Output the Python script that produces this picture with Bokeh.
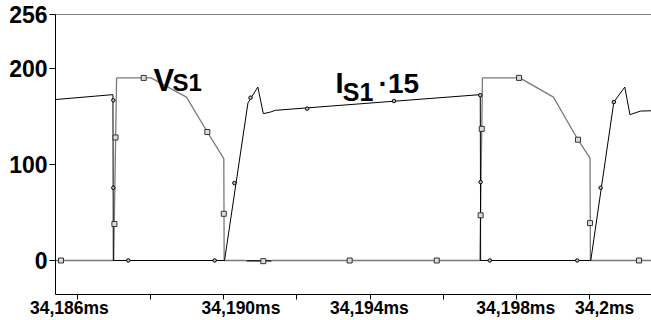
from bokeh.plotting import figure
from bokeh.models import Range1d, FixedTicker, Span, Label
from bokeh.embed import file_html
from bokeh.resources import INLINE

# ---- data (time in ms, values in chart units) ----
vs1_t = [34.18540, 34.18699, 34.18707, 34.18801, 34.18898, 34.18955, 34.19000, 34.19001,
         34.19059, 34.19065, 34.19128, 34.19133, 34.19700, 34.19707, 34.19809, 34.19901,
         34.19968, 34.20001, 34.20002, 34.20169]
vs1_v = [0, 0, 190, 190, 170, 133.7, 106, 0,
         0, -1, -1, 0, 0, 190, 190, 170,
         125.7, 106.6, 0, 0]

is1_t = [34.18540, 34.18697, 34.18698, 34.19002, 34.19066, 34.19093, 34.19108, 34.19128,
         34.19141, 34.19701, 34.19702, 34.20003, 34.20066, 34.20096, 34.20110, 34.20139, 34.20169]
is1_v = [167.5, 172.6, 0, 0, 163.9, 180.5, 152.8, 154.5,
         156.3, 172.6, 0, 0, 164.9, 180.5, 151.8, 155.5, 155.8]

vs1_mark_t = [34.18555, 34.18701, 34.18704, 34.18781, 34.18955, 34.19000, 34.19108, 34.19344,
              34.19582, 34.19702, 34.19705, 34.19807, 34.19968, 34.20001, 34.20135]
vs1_mark_v = [0, 38, 128, 190, 133.7, 48.6, -0.7, 0,
              0, 47, 137, 190, 125.7, 38.9, 0]

is1_mark_t = [34.18698, 34.18698, 34.18739, 34.18975, 34.19029, 34.19073, 34.19228, 34.19465,
              34.19701, 34.19702, 34.19727, 34.19966, 34.20030, 34.20066]
is1_mark_v = [166.7, 75.7, 0, 0, 80.6, 169.4, 158, 166,
              172, 81.6, 0, 0, 75.7, 164.9]

x_ticks = [34.186, 34.188, 34.190, 34.192, 34.194, 34.196, 34.198, 34.200]
x_tick_labels = ["34,186ms", "34,190ms", "34,194ms", "34,198ms", "34,2ms"]
x_tick_label_at = [34.18578, 34.19047, 34.19398, 34.19798, 34.20041]
y_ticks = [0, 100, 200, 256]

FONT = "Liberation Sans"

p = figure(width=651, height=320,
           x_range=Range1d(34.18540, 34.20169), y_range=Range1d(-35.4, 256),
           output_backend="svg", toolbar_location=None,
           min_border_left=55, min_border_top=14, min_border_bottom=26, min_border_right=0)
p.outline_line_color = None
p.grid.visible = False
p.background_fill_color = "white"
p.border_fill_color = "white"

# x axis: tick marks drawn as minor ticks, labels at their own positions
xa = p.xaxis[0]
xa.ticker = FixedTicker(ticks=x_tick_label_at, minor_ticks=x_ticks)
xa.major_label_overrides = dict(zip(x_tick_label_at, x_tick_labels))
xa.major_tick_out = 0
xa.major_tick_in = 0
xa.minor_tick_out = 5
xa.minor_tick_in = 0
xa.minor_tick_line_width = 1
xa.major_label_standoff = -2
xa.major_label_text_font = FONT
xa.major_label_text_font_style = "bold"
xa.major_label_text_font_size = "17.5px"
xa.major_label_text_color = "black"
xa.axis_line_color = "black"
xa.minor_tick_line_color = "black"

ya = p.yaxis[0]
ya.ticker = FixedTicker(ticks=y_ticks, minor_ticks=[])
ya.major_tick_out = 6
ya.major_tick_in = 0
ya.major_label_standoff = 2
ya.major_label_text_font = FONT
ya.major_label_text_font_style = "bold"
ya.major_label_text_font_size = "23px"
ya.major_label_text_color = "black"
ya.axis_line_color = "black"
ya.major_tick_line_color = "black"

p.add_layout(Span(location=256, dimension="width", line_color="black", line_width=1))
p.add_layout(Span(location=0, dimension="width", line_color="black", line_width=1, level="underlay"))

# traces
p.line(vs1_t, vs1_v, line_color="#7a7a7a", line_width=1.3)
p.line(is1_t, is1_v, line_color="#000000", line_width=1)
p.scatter(vs1_mark_t, vs1_mark_v, marker="square", size=5, fill_color="#dddddd",
          line_color="#333333", line_width=1)
p.scatter(is1_mark_t, is1_mark_v, marker="circle", size=3.5, fill_color="#bbbbbb",
          line_color="#000000", line_width=1)

# trace labels
def lbl(x, y, t, size):
    p.add_layout(Label(x=x, y=y, text=t, text_align="left", text_baseline="alphabetic",
                       text_font=FONT, text_font_style="bold", text_font_size=size,
                       text_color="black"))

lbl(34.18808, 187.5, "V", "31px")
lbl(34.18860, 185.4, "S1", "24px")
lbl(34.19305, 184.4, "I", "29px")
lbl(34.19325, 175.3, "S1", "25px")
lbl(34.19423, 184.1, "\u00b715", "28px")

open("out.html", "w").write(file_html(p, INLINE))
